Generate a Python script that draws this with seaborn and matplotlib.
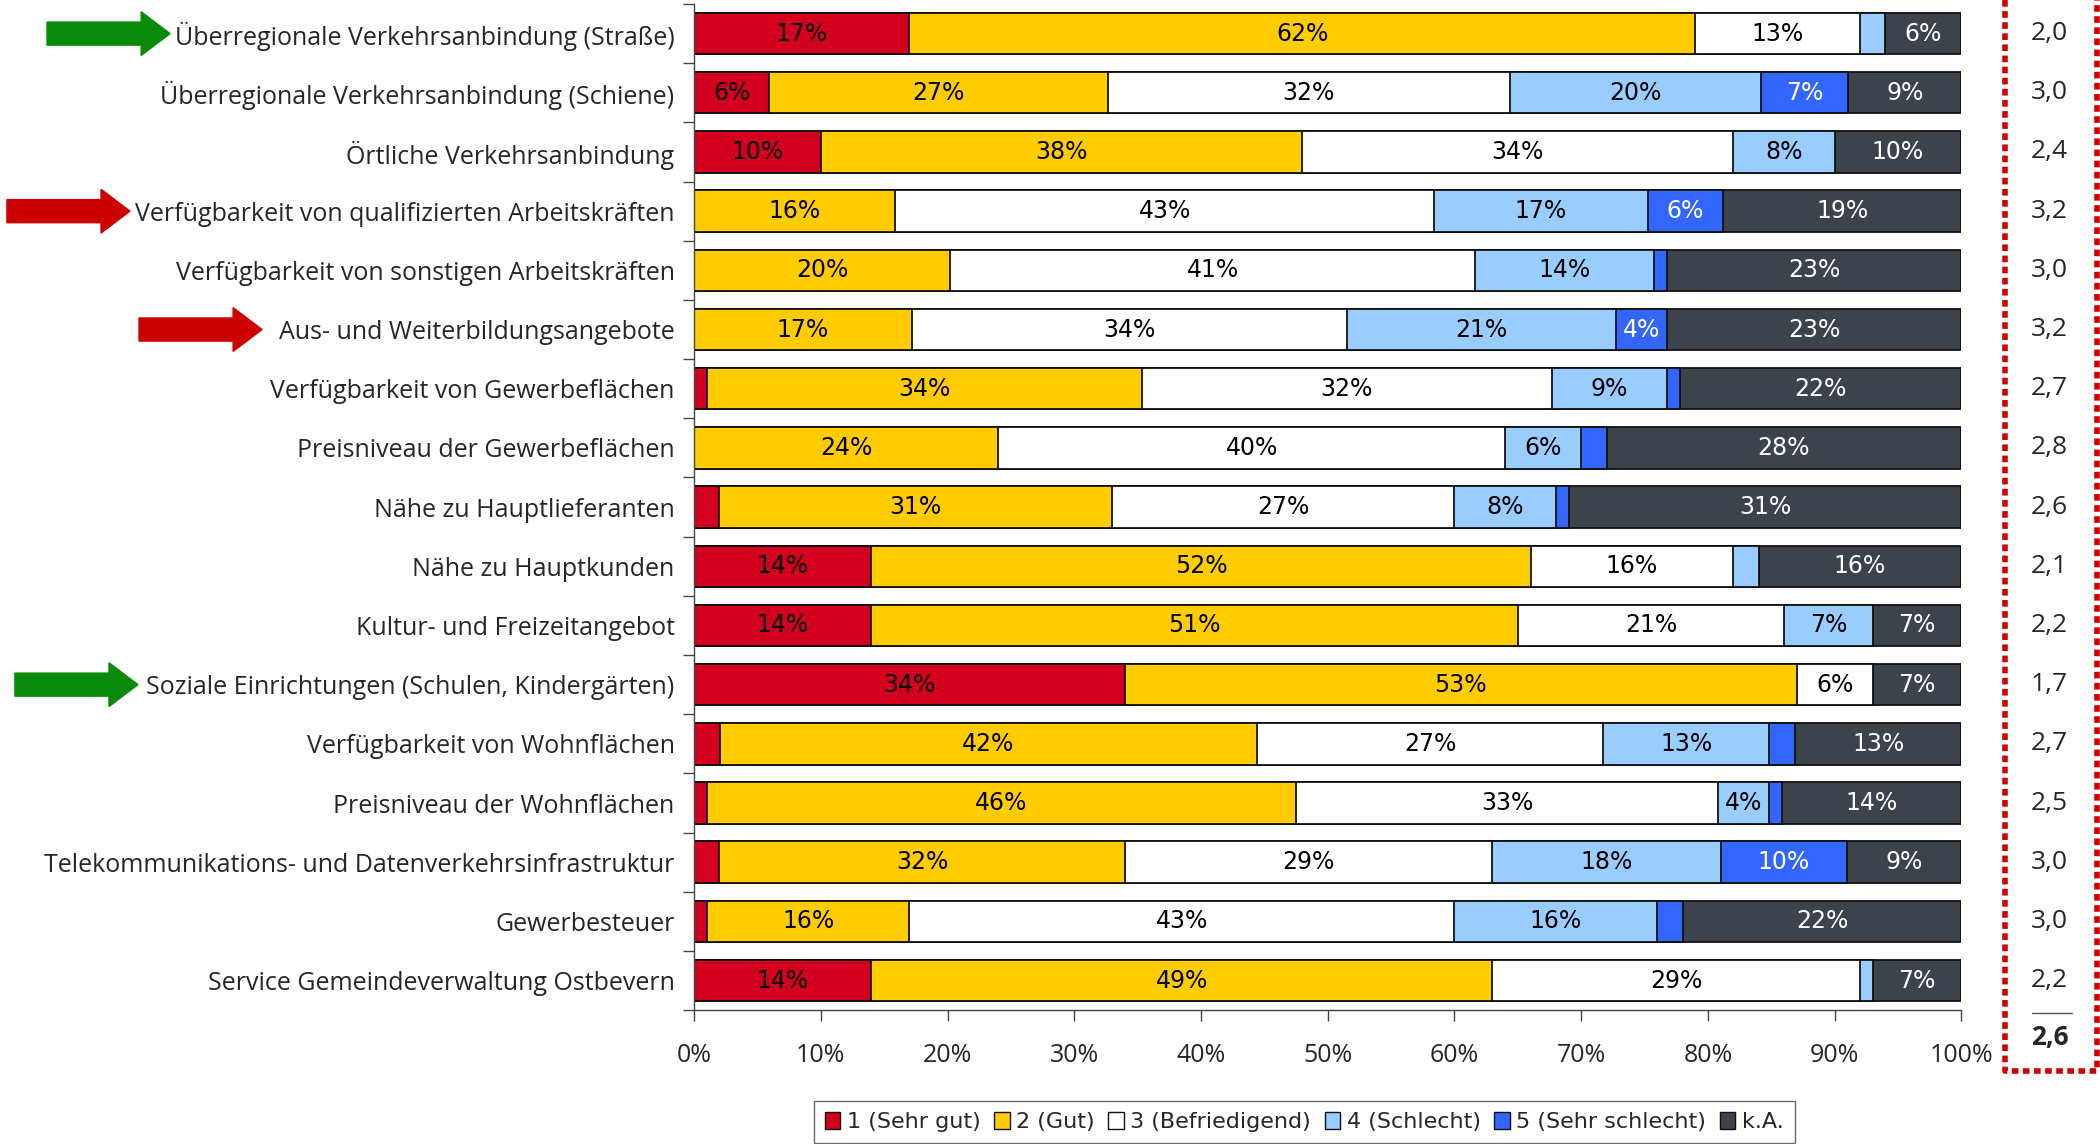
import numpy as np
import pandas as pd
import matplotlib
matplotlib.use("Agg")
import matplotlib.pyplot as plt
import matplotlib.transforms as mtransforms
from matplotlib.patches import FancyArrow, Patch
from matplotlib.lines import Line2D
import seaborn as sns

categories = [
    "Überregionale Verkehrsanbindung (Straße)",
    "Überregionale Verkehrsanbindung (Schiene)",
    "Örtliche Verkehrsanbindung",
    "Verfügbarkeit von qualifizierten Arbeitskräften",
    "Verfügbarkeit von sonstigen Arbeitskräften",
    "Aus- und Weiterbildungsangebote",
    "Verfügbarkeit von Gewerbeflächen",
    "Preisniveau der Gewerbeflächen",
    "Nähe zu Hauptlieferanten",
    "Nähe zu Hauptkunden",
    "Kultur- und Freizeitangebot",
    "Soziale Einrichtungen (Schulen, Kindergärten)",
    "Verfügbarkeit von Wohnflächen",
    "Preisniveau der Wohnflächen",
    "Telekommunikations- und Datenverkehrsinfrastruktur",
    "Gewerbesteuer",
    "Service Gemeindeverwaltung Ostbevern",
]

# percentages per answer (rows as in categories)
sehr_gut = [17, 6, 10, 0, 0, 0, 1, 0, 2, 14, 14, 34, 2, 1, 2, 1, 14]
gut = [62, 27, 38, 16, 20, 17, 34, 24, 31, 52, 51, 53, 42, 46, 32, 16, 49]
befriedigend = [13, 32, 34, 43, 41, 34, 32, 40, 27, 16, 21, 6, 27, 33, 29, 43, 29]
schlecht = [2, 20, 8, 17, 14, 21, 9, 6, 8, 2, 7, 0, 13, 4, 18, 16, 1]
sehr_schlecht = [0, 7, 0, 6, 1, 4, 1, 2, 1, 0, 0, 0, 2, 1, 10, 2, 0]
keine_angabe = [6, 9, 10, 19, 23, 23, 22, 28, 31, 16, 7, 7, 13, 14, 9, 22, 7]

scores = ["2,0", "3,0", "2,4", "3,2", "3,0", "3,2", "2,7", "2,8", "2,6",
          "2,1", "2,2", "1,7", "2,7", "2,5", "3,0", "3,0", "2,2"]
score_total = "2,6"

series_names = ["1 (Sehr gut)", "2 (Gut)", "3 (Befriedigend)", "4 (Schlecht)",
                "5 (Sehr schlecht)", "k.A."]
colors = ["#D2001E", "#FFCC00", "#FFFFFF", "#99CCFF", "#3366FF", "#3C434A"]
text_colors = ["black", "black", "black", "black", "white", "white"]

# arrows: (row, colour, left edge in figure fraction)
arrows = [(0, "#0A8A0A", 0.0224), (3, "#CC0000", 0.0033),
          (5, "#CC0000", 0.0662), (11, "#0A8A0A", 0.0071)]

sns.set_style("white")
plt.rcParams["font.family"] = ["Open Sans", "DejaVu Sans"]

vals = np.array([sehr_gut, gut, befriedigend, schlecht, sehr_schlecht, keine_angabe], dtype=float)
shares = vals / vals.sum(axis=0) * 100  # 100% stacked like the original
cum = np.cumsum(shares, axis=0)

fig = plt.figure(figsize=(21, 11.44), dpi=100)
ax = fig.add_axes([0.3305, 0.117, 0.6035, 0.8795])

# draw cumulative bars from the outermost layer inwards
for i in range(5, -1, -1):
    df = pd.DataFrame({"cat": categories, "x": cum[i]})
    sns.barplot(data=df, x="x", y="cat", orient="h", color=colors[i], saturation=1,
                edgecolor="#111111", linewidth=1.3, width=0.7, errorbar=None, ax=ax)

for i in range(6):
    for r in range(len(categories)):
        v = vals[i, r]
        if v >= 4:
            xc = cum[i, r] - shares[i, r] / 2
            ax.text(xc, r, f"{int(v)}%", ha="center", va="center", fontsize=17,
                    color=text_colors[i], family="DejaVu Sans")

ax.set_xlim(0, 100)
ax.set_ylim(len(categories) - 0.5, -0.5)
ax.set_xticks(np.arange(0, 101, 10))
ax.set_xticklabels([f"{t}%" for t in range(0, 101, 10)], fontsize=18)
ax.set_yticks(np.arange(-0.5, len(categories), 1), minor=True)
ax.tick_params(axis="y", which="major", length=0, labelsize=18, pad=14)
ax.tick_params(axis="y", which="minor", length=8, width=1, color="#444444", left=True)
ax.tick_params(axis="x", length=8, width=1, color="#444444", bottom=True, pad=16)
ax.set_xlabel("")
ax.set_ylabel("")
for s in ["top", "right"]:
    ax.spines[s].set_visible(False)
for s in ["left", "bottom"]:
    ax.spines[s].set_color("#444444")
    ax.spines[s].set_linewidth(1)

# arrows next to highlighted labels
blend = mtransforms.blended_transform_factory(fig.transFigure, ax.transData)
for row, col, x0 in arrows:
    ar = FancyArrow(x0, row, 0.0586, 0, width=0.39, head_width=0.74, head_length=0.0138,
                    length_includes_head=True, color=col, transform=blend, clip_on=False)
    fig.add_artist(ar)

# scores column with dotted frame
for r, s in enumerate(scores):
    fig.text(0.976, r, s, transform=blend, ha="center", va="center", fontsize=19)
fig.add_artist(Line2D([0.9676, 0.9867], [0.1145, 0.1145], color="#555555", lw=1,
                      transform=fig.transFigure))
fig.text(0.976, 0.0927, score_total, ha="center", va="center", fontsize=19, fontweight="bold")
fig.add_artist(Line2D([0.9548, 0.9548, 0.9986, 0.9986], [1.0, 0.0638, 0.0638, 1.0],
                      color="#D00000", lw=4, linestyle=(0, (1.2, 0.8)),
                      transform=fig.transFigure))

handles = [Patch(facecolor=c, edgecolor="#111111", linewidth=1) for c in colors]
leg = fig.legend(handles, series_names, loc="center", bbox_to_anchor=(0.621, 0.019),
                 ncol=6, frameon=True, fancybox=False,
                 handlelength=0.7, handleheight=0.8, handletextpad=0.3,
                 columnspacing=0.6, borderpad=0.5, prop={"family": "DejaVu Sans", "size": 16})
leg.get_frame().set_edgecolor("#444444")
leg.get_frame().set_linewidth(1)

fig.savefig("out.png", dpi=100)
